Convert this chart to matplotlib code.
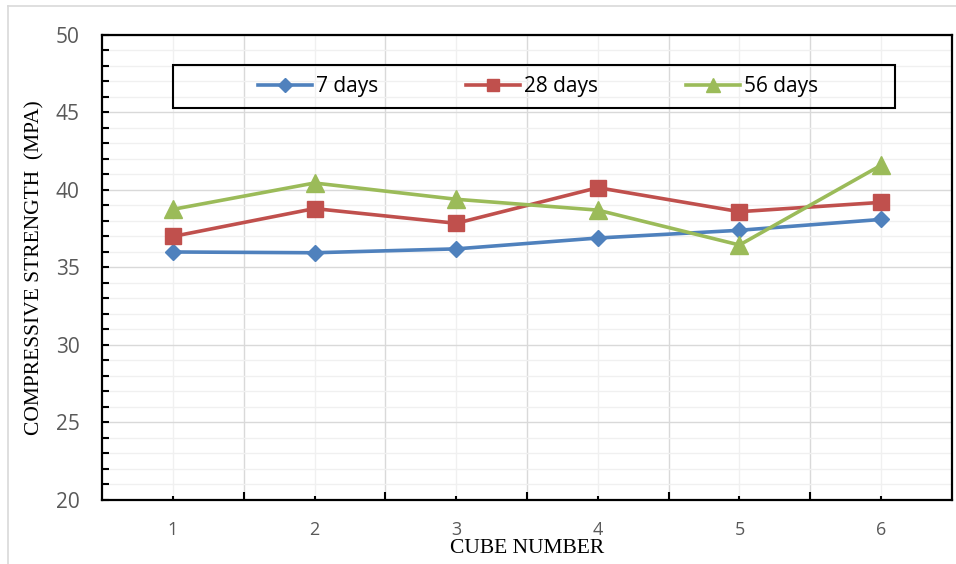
import numpy as np
import matplotlib.pyplot as plt
from matplotlib.lines import Line2D
from matplotlib.patches import Rectangle
from matplotlib.ticker import MultipleLocator

# Compressive strength (MPa) per cube at each curing age
cubes = [1, 2, 3, 4, 5, 6]
days_7 = [36.0, 35.95, 36.2, 36.9, 37.4, 38.1]
days_28 = [37.0, 38.8, 37.85, 40.15, 38.6, 39.2]
days_56 = [38.75, 40.45, 39.4, 38.7, 36.45, 41.6]

series = [
    ("7 days", days_7, "#4F81BD", "D", 8.5),
    ("28 days", days_28, "#C0504D", "s", 11),
    ("56 days", days_56, "#9BBB59", "^", 12.5),
]

fig = plt.figure(figsize=(9.56, 5.64), dpi=100)
ax = fig.add_axes([0.1067, 0.1135, 0.8891, 0.8245])

handles = []
for label, vals, color, marker, ms in series:
    h, = ax.plot(cubes, vals, color=color, linewidth=2.6, marker=marker,
                 markersize=ms, markerfacecolor=color, markeredgecolor=color,
                 label=label, zorder=3)
    handles.append(h)

ax.set_xlim(0.5, 6.5)
ax.set_ylim(20, 50)

# Major x ticks at the cube positions, minor ticks at category boundaries
ax.set_xticks(cubes)
ax.set_xticks(np.arange(1.5, 6.5, 1.0), minor=True)
ax.yaxis.set_major_locator(MultipleLocator(5))
ax.yaxis.set_minor_locator(MultipleLocator(1))

ax.grid(which="major", axis="x", color="#F0F0F0", linewidth=1.0, zorder=0)
ax.grid(which="minor", axis="x", color="#D9D9D9", linewidth=1.0, zorder=0)
ax.grid(which="major", axis="y", color="#D9D9D9", linewidth=1.0, zorder=0)
ax.grid(which="minor", axis="y", color="#F0F0F0", linewidth=1.0, zorder=0)
ax.set_axisbelow(True)

for sp in ax.spines.values():
    sp.set_color("black")
    sp.set_linewidth(1.6)

ax.tick_params(axis="x", which="major", direction="in", length=3, width=1.5,
               pad=15, labelsize=13, labelcolor="#595959")
ax.tick_params(axis="x", which="minor", direction="in", length=5.5, width=1.5)
ax.tick_params(axis="y", which="both", direction="in", length=5, width=1.5,
               pad=16, labelsize=15, labelcolor="#595959")
for lbl in ax.get_xticklabels() + ax.get_yticklabels():
    lbl.set_fontfamily("Open Sans")

ax.set_xlabel("CUBE NUMBER", fontsize=15.5, family="Liberation Serif",
              color="black", labelpad=0)
ax.set_ylabel("COMPRESSIVE STRENGTH  (MPA)", fontsize=15.5,
              family="Liberation Serif", color="black", labelpad=8)

# Legend box drawn separately so the entries sit centred inside it
box = Rectangle((0.0835, 0.843), 0.8495, 0.092, transform=ax.transAxes,
                fill=False, edgecolor="black", linewidth=1.5, zorder=4)
ax.add_patch(box)
leg = ax.legend(handles=handles, loc="center", bbox_to_anchor=(0.513, 0.889),
                ncol=3, frameon=False, handlelength=2.6, handletextpad=0.2,
                columnspacing=4.2, markerscale=0.8,
                prop={"family": "Open Sans", "size": 15})

# Light outer chart border (top and left edges)
fig.add_artist(Line2D([8 / 956, 1], [1 - 6 / 564, 1 - 6 / 564],
                      transform=fig.transFigure, color="#D9D9D9", linewidth=1.2))
fig.add_artist(Line2D([8 / 956, 8 / 956], [0, 1 - 6 / 564],
                      transform=fig.transFigure, color="#D9D9D9", linewidth=1.2))

fig.savefig("out.png", dpi=100, facecolor="white")
